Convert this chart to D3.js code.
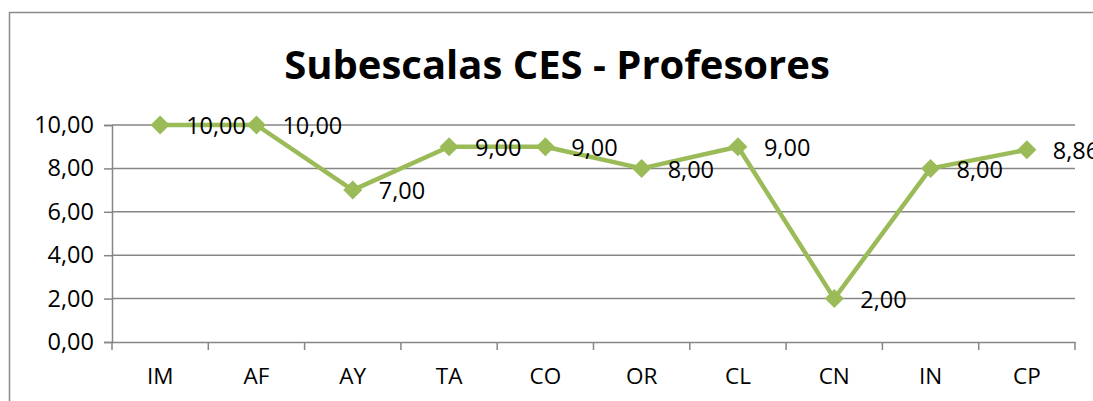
<!DOCTYPE html>
<html><head><meta charset="utf-8">
<script src="https://cdn.jsdelivr.net/npm/d3@7"></script>
<style>body{margin:0;background:#fff}svg{display:block}</style>
</head><body>
<svg id="c" width="1093" height="401"></svg>
<script>
const categories = ["IM","AF","AY","TA","CO","OR","CL","CN","IN","CP"];
const values = [10, 10, 7, 9, 9, 8, 9, 2, 8, 8.86];
const yTicks = [0, 2, 4, 6, 8, 10];
const title = "Subescalas CES - Profesores";

const svg = d3.select("#c");
const font = "'Open Sans', sans-serif";
const green = "#9BBB59";
const grid = "#868686";

// chart border
svg.append("rect").attr("x", 9.5).attr("y", 12.5).attr("width", 1200).attr("height", 500)
  .attr("fill", "none").attr("stroke", "#8a8a8a").attr("stroke-width", 1.5);

const L = 112, R = 1075, T = 125, B = 342;
const x = d3.scaleBand().domain(categories).range([L, R]).padding(0);
const y = d3.scaleLinear().domain([0, 10]).range([B, T]);
const fmt = d => d3.format(".2f")(d).replace(".", ",");

// gridlines
svg.append("g").selectAll("line").data(yTicks.filter(d => d > 0)).join("line")
  .attr("x1", L).attr("x2", R).attr("y1", d => y(d)).attr("y2", d => y(d))
  .attr("stroke", grid).attr("stroke-width", 1.5);

// y axis
const ya = svg.append("g").attr("transform", `translate(${L},0)`)
  .call(d3.axisLeft(y).tickValues(yTicks).tickFormat(fmt).tickSize(8).tickPadding(10));
ya.select(".domain").attr("stroke", grid).attr("stroke-width", 1.5);
ya.selectAll(".tick line").attr("stroke", grid).attr("stroke-width", 1.5);
ya.selectAll("text").attr("font-family", font).attr("font-size", 23.5).attr("fill", "#000");

// x axis
const xa = svg.append("g").attr("transform", `translate(0,${B})`)
  .call(d3.axisBottom(x).tickSize(0).tickPadding(26));
xa.select(".domain").attr("stroke", grid).attr("stroke-width", 1.5);
xa.selectAll("text").attr("font-family", font).attr("font-size", 22.5).attr("fill", "#000");
// boundary ticks
const bounds = categories.map(c => x(c)).concat([R]);
svg.append("g").selectAll("line").data(bounds).join("line")
  .attr("x1", d => d).attr("x2", d => d).attr("y1", B).attr("y2", B + 8)
  .attr("stroke", grid).attr("stroke-width", 1.5);

// line
const cx = c => x(c) + x.bandwidth() / 2;
const data = categories.map((c, i) => ({c, v: values[i]}));
svg.append("path").datum(data)
  .attr("d", d3.line().x(d => cx(d.c)).y(d => y(d.v)))
  .attr("fill", "none").attr("stroke", green).attr("stroke-width", 4.5).attr("stroke-linejoin", "round");

// markers
svg.append("g").selectAll("path").data(data).join("path")
  .attr("d", d3.symbol(d3.symbolDiamond2, 230)())
  .attr("transform", d => `translate(${cx(d.c)},${y(d.v)})`)
  .attr("fill", green);

// labels
svg.append("g").selectAll("text").data(data).join("text")
  .attr("x", d => cx(d.c) + 26).attr("y", d => y(d.v) + 3)
  .attr("dominant-baseline", "middle")
  .attr("font-family", font).attr("font-size", 23.5).attr("fill", "#000")
  .text(d => fmt(d.v));

// title
svg.append("text").attr("x", 557).attr("y", 79).attr("text-anchor", "middle")
  .attr("font-family", font).attr("font-weight", "bold").attr("font-size", 40).attr("fill", "#000")
  .text(title);
</script>
</body></html>
